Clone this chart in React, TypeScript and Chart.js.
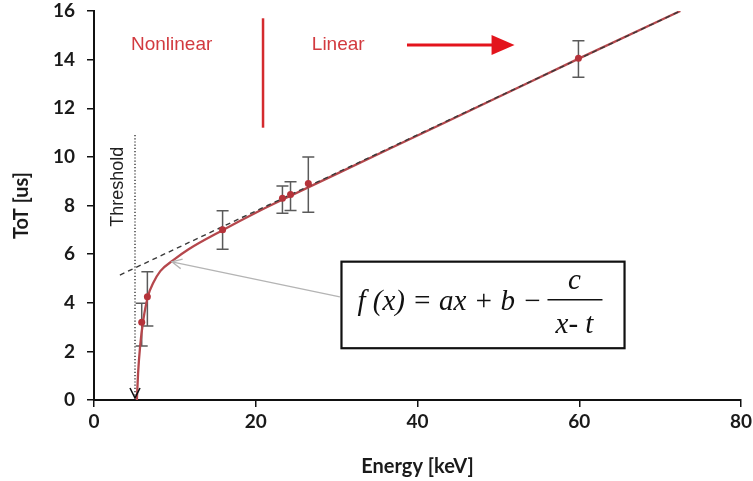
import React, { useEffect, useRef } from 'react';
import { Chart, registerables } from 'chart.js';

Chart.register(...registerables);

// measured points (Energy keV, ToT us) with error bar bounds
const energy = [5.9, 6.6, 15.9, 23.3, 24.3, 26.5, 59.9];
const tot = [3.2, 4.25, 7.0, 8.3, 8.45, 8.9, 14.06];
const errLow = [2.22, 3.04, 6.2, 7.68, 7.79, 7.72, 13.28];
const errHigh = [3.98, 5.28, 7.78, 8.8, 8.98, 10.0, 14.78];

// fitted curve
const fitX = [5.3, 5.45, 5.7, 6.1, 6.7, 7.3, 8.2, 9.8, 11.7, 16, 20, 24, 30, 40, 50, 60, 72.5];
const fitY = [0, 1.1, 2.2, 3.3, 4.3, 4.8, 5.3, 5.75, 6.2, 7.0, 7.7, 8.35, 9.3, 10.88, 12.46, 14.05, 16.0];

// linear asymptote (dashed)
const asymX = [3.2, 72.5];
const asymY = [5.14, 16.0];

const xTicks = [0, 20, 40, 60, 80];
const yTicks = [0, 2, 4, 6, 8, 10, 12, 14, 16];

// annotation anchors in data coordinates
const thresholdE = 5.07;
const thresholdTop = 10.9;
const thresholdLabel = { x: 2.97, y: 8.77, text: 'Threshold' };
const splitE = 20.9;
const splitRange = [11.2, 15.7];
const nonlinearLabel = { x: 9.6, y: 14.6, text: 'Nonlinear' };
const linearLabel = { x: 30.2, y: 14.6, text: 'Linear' };
const linearArrow = { x0: 38.7, x1: 52.0, y: 14.6 };
const pointer = { x0: 30.4, y0: 4.24, x1: 9.64, y1: 5.68 };
const formulaBox = { x0: 30.6, x1: 65.6, y0: 5.69, y1: 2.13 };

const extrasPlugin = {
  id: 'extras',
  beforeDatasetsDraw(chart: any) {
    const { ctx, scales } = chart;
    const x = scales.x, y = scales.y;
    ctx.save();
    ctx.strokeStyle = '#5a5a5a';
    ctx.lineWidth = 1.5;
    energy.forEach((e, i) => {
      const px = x.getPixelForValue(e);
      const top = y.getPixelForValue(errHigh[i]);
      const bot = y.getPixelForValue(errLow[i]);
      ctx.beginPath();
      ctx.moveTo(px, top);
      ctx.lineTo(px, bot);
      ctx.moveTo(px - 6, top);
      ctx.lineTo(px + 6, top);
      ctx.moveTo(px - 6, bot);
      ctx.lineTo(px + 6, bot);
      ctx.stroke();
    });
    ctx.restore();
  },
  afterDatasetsDraw(chart: any) {
    const { ctx, scales } = chart;
    const x = scales.x, y = scales.y;
    ctx.save();

    // threshold dotted line with arrow
    const tx = x.getPixelForValue(thresholdE);
    const tTop = y.getPixelForValue(thresholdTop);
    const tBot = y.getPixelForValue(0);
    ctx.strokeStyle = '#111';
    ctx.lineWidth = 1.2;
    ctx.setLineDash([1.2, 2]);
    ctx.beginPath();
    ctx.moveTo(tx, tTop);
    ctx.lineTo(tx, tBot - 2);
    ctx.stroke();
    ctx.setLineDash([]);
    ctx.lineWidth = 1.6;
    ctx.beginPath();
    ctx.moveTo(tx - 5, tBot - 12);
    ctx.lineTo(tx, tBot - 2);
    ctx.lineTo(tx + 5, tBot - 12);
    ctx.stroke();

    // Threshold label
    ctx.fillStyle = '#222';
    ctx.font = '18px "Liberation Sans", Arial, sans-serif';
    ctx.textAlign = 'center';
    ctx.textBaseline = 'middle';
    ctx.save();
    ctx.translate(x.getPixelForValue(thresholdLabel.x), y.getPixelForValue(thresholdLabel.y));
    ctx.rotate(-Math.PI / 2);
    ctx.fillText(thresholdLabel.text, 0, 0);
    ctx.restore();

    // Nonlinear / Linear labels
    ctx.fillStyle = '#d23a3f';
    ctx.font = '19px "Liberation Sans", Arial, sans-serif';
    ctx.fillText(nonlinearLabel.text, x.getPixelForValue(nonlinearLabel.x), y.getPixelForValue(nonlinearLabel.y));
    ctx.fillText(linearLabel.text, x.getPixelForValue(linearLabel.x), y.getPixelForValue(linearLabel.y));

    // split line
    ctx.strokeStyle = '#d42a2e';
    ctx.lineWidth = 2.5;
    ctx.beginPath();
    const sx = x.getPixelForValue(splitE);
    ctx.moveTo(sx, y.getPixelForValue(splitRange[1]));
    ctx.lineTo(sx, y.getPixelForValue(splitRange[0]));
    ctx.stroke();

    // linear arrow
    const ax0 = x.getPixelForValue(linearArrow.x0);
    const ax1 = x.getPixelForValue(linearArrow.x1);
    const ay = y.getPixelForValue(linearArrow.y);
    ctx.strokeStyle = '#e3141c';
    ctx.fillStyle = '#e3141c';
    ctx.lineWidth = 3;
    ctx.beginPath();
    ctx.moveTo(ax0, ay);
    ctx.lineTo(ax1 - 20, ay);
    ctx.stroke();
    ctx.beginPath();
    ctx.moveTo(ax1, ay);
    ctx.lineTo(ax1 - 23, ay - 10);
    ctx.lineTo(ax1 - 23, ay + 10);
    ctx.closePath();
    ctx.fill();

    // gray pointer arrow
    const px0 = x.getPixelForValue(pointer.x0), py0 = y.getPixelForValue(pointer.y0);
    const px1 = x.getPixelForValue(pointer.x1), py1 = y.getPixelForValue(pointer.y1);
    ctx.strokeStyle = '#b4b4b4';
    ctx.lineWidth = 1.3;
    ctx.beginPath();
    ctx.moveTo(px0, py0);
    ctx.lineTo(px1, py1);
    const ang = Math.atan2(py0 - py1, px0 - px1);
    const hl = 11;
    ctx.moveTo(px1 + hl * Math.cos(ang - 0.45), py1 + hl * Math.sin(ang - 0.45));
    ctx.lineTo(px1, py1);
    ctx.lineTo(px1 + hl * Math.cos(ang + 0.45), py1 + hl * Math.sin(ang + 0.45));
    ctx.stroke();

    // formula box
    const bx0 = x.getPixelForValue(formulaBox.x0), bx1 = x.getPixelForValue(formulaBox.x1);
    const by0 = y.getPixelForValue(formulaBox.y0), by1 = y.getPixelForValue(formulaBox.y1);
    ctx.fillStyle = '#fff';
    ctx.fillRect(bx0, by0, bx1 - bx0, by1 - by0);
    ctx.strokeStyle = '#111';
    ctx.lineWidth = 2.2;
    ctx.strokeRect(bx0, by0, bx1 - bx0, by1 - by0);

    ctx.fillStyle = '#111';
    ctx.font = 'italic 29px "Liberation Serif", "Times New Roman", serif';
    ctx.textAlign = 'left';
    ctx.textBaseline = 'middle';
    ctx.fillText('f (x) = ax + b \u2212', bx0 + 16, by0 + 41);
    const fx = bx0 + 233;
    ctx.textAlign = 'center';
    ctx.fillText('c', fx, by0 + 20);
    ctx.fillText('x- t', fx, by0 + 64);
    ctx.lineWidth = 1.5;
    ctx.beginPath();
    ctx.moveTo(bx0 + 206, by0 + 38);
    ctx.lineTo(bx0 + 261, by0 + 38);
    ctx.stroke();

    ctx.restore();
  },
};

export default function App() {
  const ref = useRef<HTMLCanvasElement | null>(null);
  useEffect(() => {
    document.body.style.margin = '0';
    if (!ref.current) return;
    const tickFont = { family: 'Lato, "Open Sans", sans-serif', size: 19, weight: 'bold' as const };
    const titleFont = { family: 'Lato, "Open Sans", sans-serif', size: 20, weight: 'bold' as const };
    const chart = new Chart(ref.current, {
      type: 'scatter',
      data: {
        datasets: [
          {
            label: 'measured',
            data: energy.map((e, i) => ({ x: e, y: tot[i] })),
            backgroundColor: '#b5333a',
            borderWidth: 0,
            pointRadius: 3.5,
            showLine: false,
            order: 0,
          },
          {
            label: 'linear',
            data: asymX.map((e, i) => ({ x: e, y: asymY[i] })),
            borderColor: '#3a3a3a',
            borderWidth: 1.4,
            borderDash: [5, 4],
            pointRadius: 0,
            showLine: true,
            order: 1,
          },
          {
            label: 'fit',
            data: fitX.map((e, i) => ({ x: e, y: fitY[i] })),
            borderColor: '#b5474c',
            borderWidth: 2.3,
            pointRadius: 0,
            showLine: true,
            cubicInterpolationMode: 'monotone',
            order: 2,
          },
        ],
      },
      options: {
        responsive: false,
        animation: false,
        layout: { padding: { top: 11, right: 12, left: 0, bottom: 0 } },
        plugins: { legend: { display: false }, tooltip: { enabled: false } },
        scales: {
          x: {
            type: 'linear',
            min: 0,
            max: 80,
            afterBuildTicks: (s: any) => { s.ticks = xTicks.map((v) => ({ value: v })); },
            afterFit: (s: any) => { s.height = 81; s.paddingLeft = 0; s.paddingRight = 0; },
            border: { display: true, color: '#111', width: 2 },
            grid: { display: true, drawOnChartArea: false, drawTicks: true, tickLength: 7, color: '#111', lineWidth: 1.5 },
            ticks: { font: tickFont, color: '#1a1a1a', padding: 3 },
            title: { display: true, text: 'Energy [keV]', font: titleFont, color: '#1a1a1a', padding: { top: 0, bottom: 2 } },
          },
          y: {
            type: 'linear',
            min: 0,
            max: 16,
            afterBuildTicks: (s: any) => { s.ticks = yTicks.map((v) => ({ value: v })); },
            afterFit: (s: any) => { s.width = 94; s.paddingTop = 0; s.paddingBottom = 0; },
            border: { display: true, color: '#111', width: 2 },
            grid: { display: true, drawOnChartArea: false, drawTicks: true, tickLength: 7, color: '#111', lineWidth: 1.5 },
            ticks: { font: tickFont, color: '#1a1a1a', padding: 12 },
            title: { display: true, text: 'ToT [us]', font: titleFont, color: '#1a1a1a', padding: { top: 10, bottom: 0 } },
          },
        },
      },
      plugins: [extrasPlugin],
    } as any);
    return () => chart.destroy();
  }, []);
  return (
    <div style={{ width: 753, height: 481, background: '#fff' }}>
      <canvas ref={ref} width={753} height={481} style={{ display: 'block' }} />
    </div>
  );
}
